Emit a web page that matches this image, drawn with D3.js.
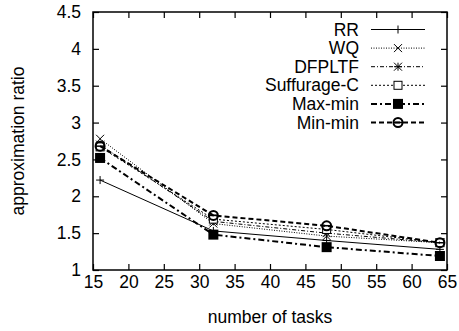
<!DOCTYPE html>
<html>
<head>
<meta charset="utf-8">
<script src="https://cdn.jsdelivr.net/npm/d3@7"></script>
<style>
  body { margin: 0; background: #fff; }
  svg text { font-family: "Liberation Sans", Arial, sans-serif; fill: #000; }
</style>
</head>
<body>
<div id="container"></div>
<script>
const margin = { top: 12, right: 12, bottom: 61, left: 93 };
const width = 459 - margin.left - margin.right;
const height = 331 - margin.top - margin.bottom;
const fontSize = "17.5px";

const tasks = [16, 32, 48, 64];
const seriesNames = ["RR", "WQ", "DFPLTF", "Suffurage-C", "Max-min", "Min-min"];
const rrValues = [2.22, 1.53, 1.40, 1.28];
const wqValues = [2.78, 1.63, 1.46, 1.37];
const dfpltfValues = [2.70, 1.66, 1.50, 1.37];
const suffurageValues = [2.67, 1.69, 1.55, 1.37];
const maxminValues = [2.52, 1.48, 1.31, 1.19];
const minminValues = [2.68, 1.74, 1.60, 1.37];
const xTicks = [15, 20, 25, 30, 35, 40, 45, 50, 55, 60, 65];
const yTicks = [1, 1.5, 2, 2.5, 3, 3.5, 4, 4.5];

const styles = [
  { values: rrValues, dash: null, w: 1, marker: "plus" },
  { values: wqValues, dash: "1,1.5", w: 1, marker: "cross" },
  { values: dfpltfValues, dash: "4,2,1,2", w: 1, marker: "star" },
  { values: suffurageValues, dash: "2,2", w: 1, marker: "square" },
  { values: maxminValues, dash: "6,3,2,3", w: 2, marker: "filled" },
  { values: minminValues, dash: "5,3", w: 2, marker: "circle" }
];

const svg = d3.select("#container").append("svg")
  .attr("width", 459).attr("height", 331);
const g = svg.append("g").attr("transform", `translate(${margin.left},${margin.top})`);

const x = d3.scaleLinear().domain([15, 65]).range([0, width]);
const y = d3.scaleLinear().domain([1, 4.5]).range([height, 0]);

// inward ticks on all four sides, gnuplot style
g.append("g").attr("transform", `translate(0,${height})`)
  .call(d3.axisBottom(x).tickValues(xTicks).tickSizeInner(-6).tickSizeOuter(0).tickPadding(6))
  .call(a => a.select(".domain").remove());
g.append("g")
  .call(d3.axisTop(x).tickValues(xTicks).tickSizeInner(-6).tickSizeOuter(0).tickFormat(""))
  .call(a => a.select(".domain").remove());
g.append("g")
  .call(d3.axisLeft(y).tickValues(yTicks).tickSizeInner(-6).tickSizeOuter(0).tickPadding(12)
    .tickFormat(d3.format("")))
  .call(a => a.select(".domain").remove());
g.append("g").attr("transform", `translate(${width},0)`)
  .call(d3.axisRight(y).tickValues(yTicks).tickSizeInner(-6).tickSizeOuter(0).tickFormat(""))
  .call(a => a.select(".domain").remove());
g.selectAll(".tick text").style("font-size", fontSize).style("font-family", "Liberation Sans, Arial, sans-serif");
g.selectAll(".tick line").attr("stroke", "#000").attr("stroke-width", 1.2);

g.append("rect").attr("width", width).attr("height", height)
  .attr("fill", "none").attr("stroke", "#000").attr("stroke-width", 1.5);

function drawMarker(sel, type, cx, cy) {
  const s = 4;
  if (type === "plus") {
    sel.append("path").attr("d", `M${cx - s},${cy}H${cx + s}M${cx},${cy - s}V${cy + s}`)
      .attr("stroke", "#000").attr("stroke-width", 1);
  } else if (type === "cross") {
    sel.append("path").attr("d", `M${cx - s},${cy - s}L${cx + s},${cy + s}M${cx - s},${cy + s}L${cx + s},${cy - s}`)
      .attr("stroke", "#000").attr("stroke-width", 1);
  } else if (type === "star") {
    sel.append("path").attr("d", `M${cx - s},${cy}H${cx + s}M${cx},${cy - s}V${cy + s}M${cx - s},${cy - s}L${cx + s},${cy + s}M${cx - s},${cy + s}L${cx + s},${cy - s}`)
      .attr("stroke", "#000").attr("stroke-width", 1);
  } else if (type === "square") {
    sel.append("rect").attr("x", cx - 4).attr("y", cy - 4).attr("width", 8).attr("height", 8)
      .attr("fill", "#fff").attr("stroke", "#000").attr("stroke-width", 1);
  } else if (type === "filled") {
    sel.append("rect").attr("x", cx - 5).attr("y", cy - 5).attr("width", 10).attr("height", 10)
      .attr("fill", "#000");
  } else if (type === "circle") {
    sel.append("circle").attr("cx", cx).attr("cy", cy).attr("r", 4.5)
      .attr("fill", "none").attr("stroke", "#000").attr("stroke-width", 2);
    sel.append("path").attr("d", `M${cx - 4},${cy}H${cx + 4}`).attr("stroke", "#000").attr("stroke-width", 1.5);
  }
}

const line = d3.line().x((d, i) => x(tasks[i])).y(d => y(d));

styles.forEach((st, k) => {
  g.append("path").datum(st.values)
    .attr("d", line)
    .attr("fill", "none").attr("stroke", "#000")
    .attr("stroke-width", st.w)
    .attr("stroke-dasharray", st.dash);
  st.values.forEach((v, i) => drawMarker(g, st.marker, x(tasks[i]), y(v)));

  // legend row
  const ly = 17.5 + k * 18.6;
  g.append("text").attr("x", 266).attr("y", ly).attr("dy", "0.35em")
    .attr("text-anchor", "end").style("font-size", fontSize).text(seriesNames[k]);
  g.append("line").attr("x1", 278).attr("x2", 332).attr("y1", ly).attr("y2", ly)
    .attr("stroke", "#000").attr("stroke-width", st.w).attr("stroke-dasharray", st.dash);
  drawMarker(g, st.marker, 305, ly);
});

svg.append("text")
  .attr("transform", `translate(18,${margin.top + height / 2}) rotate(-90)`)
  .attr("text-anchor", "middle").attr("dy", "0.35em")
  .style("font-size", fontSize).text("approximation ratio");

svg.append("text")
  .attr("x", margin.left + width / 2).attr("y", 317)
  .attr("text-anchor", "middle").attr("dy", "0.35em")
  .style("font-size", fontSize).text("number of tasks");
</script>
</body>
</html>
